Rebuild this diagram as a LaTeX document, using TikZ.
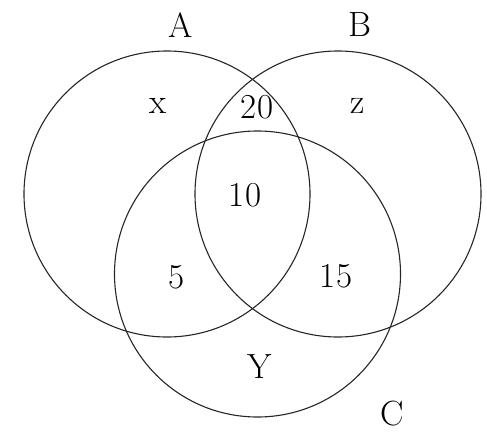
\documentclass[tikz,border=0pt]{standalone}
\begin{document}
\begin{tikzpicture}[x=1pt,y=-1pt,
  setcircle/.style={draw=black!85,line width=1.1pt},
  lbl/.style={inner sep=0pt,font=\fontsize{35}{40}\selectfont}]
\useasboundingbox (0,0) rectangle (487,434);
\node[setcircle,circle,minimum size=286pt,inner sep=0pt] (A) at (167,194) {};
\node[setcircle,circle,minimum size=286pt,inner sep=0pt] (B) at (338,194) {};
\node[setcircle,circle,minimum size=286pt,inner sep=0pt] (C) at (257.5,274) {};
\node[lbl] (lA) at (181,25) {A};
\node[lbl] (lB) at (360,25) {B};
\node[lbl] (lC) at (392,414) {C};
\node[lbl] (x) at (158,106) {x};
\node[lbl] (n20) at (257,107) {20};
\node[lbl] (z) at (358,106) {z};
\node[lbl] (n10) at (245,195) {10};
\node[lbl] (n5) at (177,277) {5};
\node[lbl] (n15) at (336,276) {15};
\node[lbl] (Y) at (260,367) {Y};
\end{tikzpicture}
\end{document}
